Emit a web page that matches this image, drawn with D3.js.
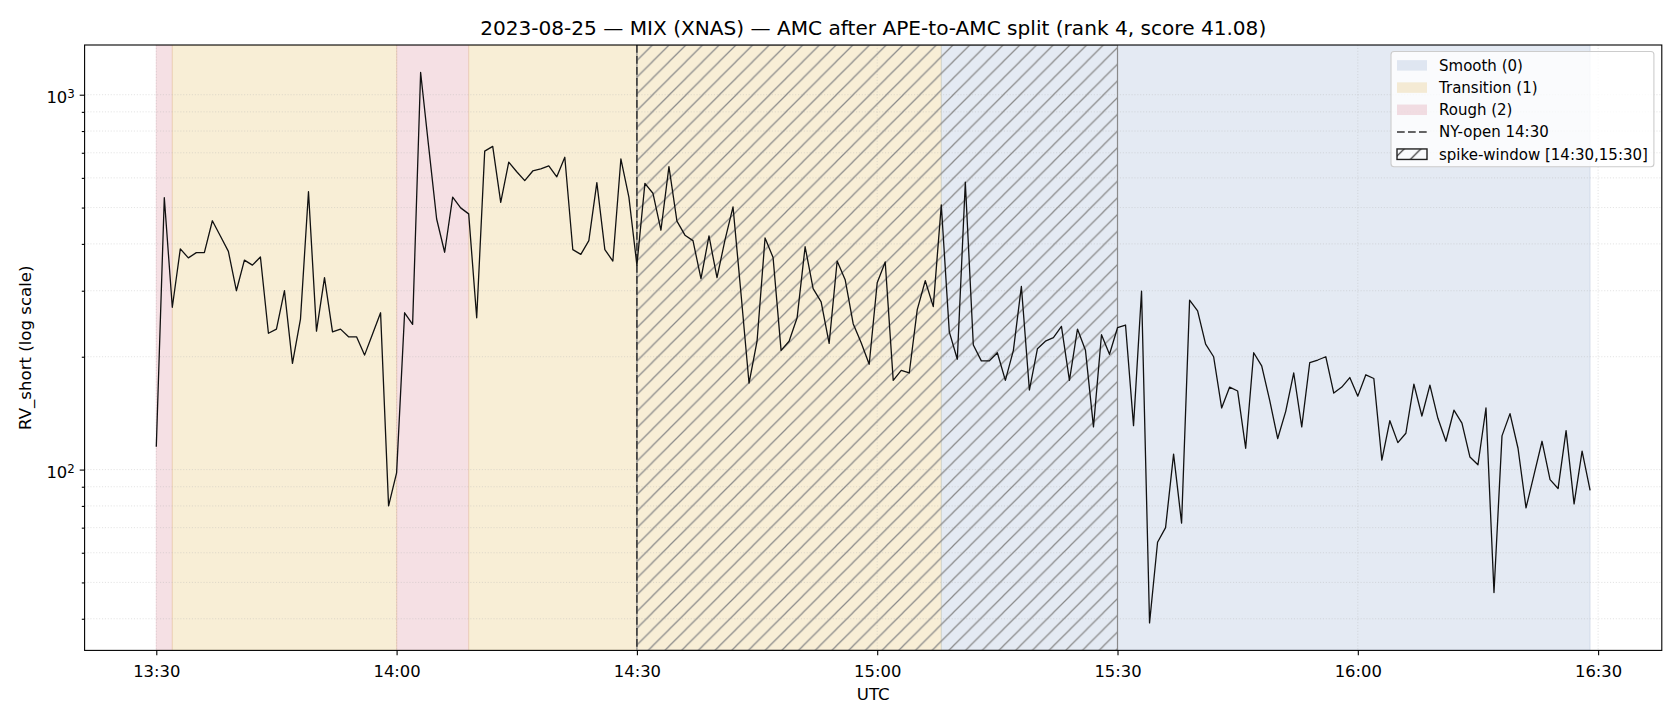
<!DOCTYPE html>
<html>
<head>
<meta charset="utf-8">
<script src="https://cdn.jsdelivr.net/npm/d3@7"></script>
<style>
body { margin:0; background:#fff; }
svg { font-family: "DejaVu Sans", sans-serif; }
</style>
</head>
<body>
<svg id="drawing_region"></svg>
<script>
// ---- data ----
const tradeDate = "2023-08-25";
const startTime = "13:30";   // one value per minute from here
const rvShort = [
    115, 531, 271, 388, 367, 379, 379, 461, 420, 382,
    300, 362, 351, 369, 231, 237, 300, 192, 252, 551,
    234, 325, 233, 237, 226, 226, 202, 230, 262, 80,
    98, 262, 244, 1146, 728, 466, 380, 533, 499, 481,
    254, 707, 728, 516, 661, 623, 590, 626, 634, 646,
    604, 681, 386, 375, 408, 583, 386, 360, 674, 533,
    351, 580, 546, 435, 643, 460, 422, 408, 323, 420,
    325, 410, 502, 294, 170, 220, 415, 368, 208, 220,
    254, 393, 304, 280, 217, 360, 321, 245, 218, 191,
    315, 358, 173, 184, 181, 267, 319, 272, 508, 233,
    197, 584, 215, 195, 195, 205, 173, 208, 308, 163,
    210, 220, 225, 241, 173, 237, 208, 130, 229, 203,
    239, 243, 131, 299, 39, 64, 70, 110, 72, 283,
    265, 216, 200, 146, 166, 162, 114, 205, 189, 153,
    121, 143, 181, 130, 193, 196, 200, 160, 166, 176,
    157, 179, 175, 106, 135, 118, 125, 169, 139, 168,
    137, 119, 144, 133, 108, 103, 146, 47, 123, 141,
    114, 79, 97, 119, 94, 89, 127, 81, 112, 88
];

const regimeStart = ["13:30", "13:32", "14:00", "14:09", "15:08"];
const regimeEnd   = ["13:32", "14:00", "14:09", "15:08", "16:29"];
const regimeCode  = [2, 1, 2, 1, 0];
const regimeNames  = ["Smooth (0)", "Transition (1)", "Rough (2)"];
const regimeColors = ["#4c72b0", "#ddaa33", "#cc6677"];

const nyOpen = "14:30";
const spikeWindow = ["14:30", "15:30"];
const xTickLabels = ["13:30", "14:00", "14:30", "15:00", "15:30", "16:00", "16:30"];
const yMajorTicks = [100, 1000];

const titleText = "2023-08-25 \u2014 MIX (XNAS) \u2014 AMC after APE-to-AMC split (rank 4, score 41.08)";

// ---- drawing ----
const W = 1680, H = 720;
const margin = {top:45, right:18.2, bottom:69.6, left:84.6};
const iw = W - margin.left - margin.right;
const ih = H - margin.top - margin.bottom;
const fsTick = 16.4, fsLabel = 16.6, fsTitle = 20.1, fsLegend = 15;
const dash = '7.7,3.3';

const parseT = d3.utcParse("%Y-%m-%d %H:%M");
const T = s => parseT(`${tradeDate} ${s}`);

const t0 = T(startTime);
const series = rvShort.map((v, i) => ({t: d3.utcMinute.offset(t0, i), v: v}));

const svg = d3.select('#drawing_region')
    .attr('width', W)
    .attr('height', H);

const chart = svg.append('g')
    .attr('transform', `translate(${margin.left}, ${margin.top})`);

// matplotlib-like 5% margins (log space for y)
const tMin = series[0].t, tMax = series[series.length-1].t;
const tPad = (tMax - tMin) * 0.05;
const xscale = d3.scaleUtc()
    .domain([new Date(+tMin - tPad), new Date(+tMax + tPad)])
    .range([0, iw]);

const lmin = Math.log10(d3.min(rvShort)), lmax = Math.log10(d3.max(rvShort));
const lpad = (lmax - lmin) * 0.05;
const yscale = d3.scaleLog()
    .domain([Math.pow(10, lmin - lpad), Math.pow(10, lmax + lpad)])
    .range([ih, 0]);

const defs = svg.append('defs');
defs.append('clipPath').attr('id', 'clip')
    .append('rect').attr('width', iw).attr('height', ih);

function addHatch(id, s, color, sw) {
    const p = defs.append('pattern')
        .attr('id', id)
        .attr('patternUnits', 'userSpaceOnUse')
        .attr('width', s).attr('height', s);
    p.append('path')
        .attr('d', `M0,${s} L${s},0 M${-s/2},${s/2} L${s/2},${-s/2} M${s/2},${s*1.5} L${s*1.5},${s/2}`)
        .attr('stroke', color)
        .attr('stroke-width', sw);
}
addHatch('hatch', 16.7, '#8a8a8a', 1.25);
addHatch('hatchLegend', 16.7, '#222', 1.2);

const plot = chart.append('g').attr('clip-path', 'url(#clip)');

// regime bands
plot.selectAll('rect.band')
    .data(regimeStart.map((s, i) => ({s: T(s), e: T(regimeEnd[i]), c: regimeCode[i]})))
    .enter()
    .append('rect')
    .attr('class', 'band')
    .attr('x', d => xscale(d.s))
    .attr('width', d => xscale(d.e) - xscale(d.s))
    .attr('y', 0)
    .attr('height', ih)
    .attr('fill', d => regimeColors[d.c])
    .attr('fill-opacity', d => d.c === 0 ? 0.15 : 0.2)
    .attr('stroke', d => regimeColors[d.c])
    .attr('stroke-opacity', 0.12)
    .attr('stroke-width', 1.2);

// grid
const yMinor = [];
[10, 100, 1000].forEach(dec => {
    for (let m = 1; m < 10; m++) {
        const v = dec * m;
        const [a, b] = yscale.domain();
        if (v >= a && v <= b && !yMajorTicks.includes(v)) yMinor.push(v);
    }
});
const xTicks = xTickLabels.map(T);

plot.selectAll('line.hgrid')
    .data(yMajorTicks.concat(yMinor))
    .enter()
    .append('line')
    .attr('x1', 0).attr('x2', iw)
    .attr('y1', d => yscale(d)).attr('y2', d => yscale(d))
    .attr('stroke', '#b0b0b0')
    .attr('stroke-opacity', 0.45)
    .attr('stroke-width', 0.8)
    .attr('stroke-dasharray', '1.1,1.8');

plot.selectAll('line.vgrid')
    .data(xTicks)
    .enter()
    .append('line')
    .attr('y1', 0).attr('y2', ih)
    .attr('x1', d => xscale(d)).attr('x2', d => xscale(d))
    .attr('stroke', '#b0b0b0')
    .attr('stroke-opacity', 0.45)
    .attr('stroke-width', 0.8)
    .attr('stroke-dasharray', '1.1,1.8');

// spike window
const sw0 = xscale(T(spikeWindow[0])), sw1 = xscale(T(spikeWindow[1]));
plot.append('rect')
    .attr('x', sw0).attr('y', 0)
    .attr('width', sw1 - sw0).attr('height', ih)
    .attr('fill', 'url(#hatch)')
    .attr('stroke', '#8a8a8a')
    .attr('stroke-width', 1.2);

// NY open line
plot.append('line')
    .attr('x1', xscale(T(nyOpen))).attr('x2', xscale(T(nyOpen)))
    .attr('y1', 0).attr('y2', ih)
    .attr('stroke', '#333')
    .attr('stroke-width', 1.5)
    .attr('stroke-dasharray', dash);

// series
plot.append('path')
    .datum(series)
    .attr('fill', 'none')
    .attr('stroke', '#111')
    .attr('stroke-width', 1.3)
    .attr('stroke-linejoin', 'round')
    .attr('d', d3.line().x(d => xscale(d.t)).y(d => yscale(d.v)));

// axes
const xaxis = d3.axisBottom(xscale)
    .tickValues(xTicks)
    .tickFormat(d3.utcFormat("%H:%M"))
    .tickSize(4.9)
    .tickPadding(4.9);
const xaxis_group = chart.append('g')
    .attr('transform', `translate(0, ${ih})`)
    .call(xaxis);

const yaxis = d3.axisLeft(yscale)
    .tickValues(yMajorTicks)
    .tickFormat('')
    .tickSize(4.9)
    .tickPadding(4.9);
const yaxis_group = chart.append('g').call(yaxis);
yaxis_group.selectAll('.tick text')
    .each(function(d) {
        const t = d3.select(this);
        t.text('10');
        t.append('tspan')
            .attr('dy', '-0.42em')
            .attr('font-size', '0.72em')
            .text(Math.round(Math.log10(d)));
    });

const yminor_group = chart.append('g')
    .call(d3.axisLeft(yscale).tickValues(yMinor).tickFormat('').tickSize(2.8));

[xaxis_group, yaxis_group, yminor_group].forEach(g => {
    g.select('.domain').remove();
    g.selectAll('.tick line').attr('stroke', '#000').attr('stroke-width', 1.1);
    g.selectAll('.tick text')
        .attr('font-family', '"DejaVu Sans", sans-serif')
        .attr('font-size', fsTick)
        .attr('fill', '#000');
});
xaxis_group.selectAll('.tick text').attr('y', 26.3).attr('dy', 0);
yaxis_group.selectAll('.tick text').attr('dy', '0.46em');

// frame
chart.append('rect')
    .attr('width', iw).attr('height', ih)
    .attr('fill', 'none')
    .attr('stroke', '#000')
    .attr('stroke-width', 1.1);

// labels
svg.append('text')
    .attr('x', margin.left + iw/2)
    .attr('y', 35)
    .attr('text-anchor', 'middle')
    .attr('font-size', fsTitle)
    .text(titleText);

svg.append('text')
    .attr('x', margin.left + iw/2)
    .attr('y', 700)
    .attr('text-anchor', 'middle')
    .attr('font-size', fsLabel)
    .text('UTC');

svg.append('text')
    .attr('transform', `translate(31, ${margin.top + ih/2}) rotate(-90)`)
    .attr('text-anchor', 'middle')
    .attr('font-size', fsLabel)
    .text('RV_short (log scale)');

// legend
const legendItems = [
    {label: regimeNames[0], kind: 'patch', color: regimeColors[0], op: 0.15},
    {label: regimeNames[1], kind: 'patch', color: regimeColors[1], op: 0.2},
    {label: regimeNames[2], kind: 'patch', color: regimeColors[2], op: 0.2},
    {label: `NY-open ${nyOpen}`, kind: 'dash'},
    {label: `spike-window [${spikeWindow[0]},${spikeWindow[1]}]`, kind: 'hatch'}
];
const legend = svg.append('g');
const lgBox = legend.append('rect')
    .attr('rx', 3).attr('ry', 3)
    .attr('fill', '#fff')
    .attr('fill-opacity', 0.8)
    .attr('stroke', '#cccccc')
    .attr('stroke-width', 1.1);

const lgLeft = 1391, lgTop = 51.5, rowH = 22.2, firstRow = 65.4;
const hx = lgLeft + 6, hw = 30, hh = 10.5, tx = hx + hw + 12;
let maxTextW = 0;
legendItems.forEach((it, i) => {
    const cy = firstRow + i * rowH;
    if (it.kind === 'patch') {
        legend.append('rect')
            .attr('x', hx).attr('y', cy - hh/2)
            .attr('width', hw).attr('height', hh)
            .attr('fill', it.color).attr('fill-opacity', it.op);
    } else if (it.kind === 'dash') {
        legend.append('line')
            .attr('x1', hx).attr('x2', hx + hw)
            .attr('y1', cy).attr('y2', cy)
            .attr('stroke', '#333')
            .attr('stroke-width', 1.5)
            .attr('stroke-dasharray', dash);
    } else {
        legend.append('rect')
            .attr('x', hx).attr('y', cy - hh/2)
            .attr('width', hw).attr('height', hh)
            .attr('fill', 'url(#hatchLegend)')
            .attr('stroke', '#222')
            .attr('stroke-width', 1.4);
    }
    const t = legend.append('text')
        .attr('x', tx).attr('y', cy)
        .attr('dy', '0.36em')
        .attr('font-size', fsLegend)
        .text(it.label);
    maxTextW = Math.max(maxTextW, t.node().getComputedTextLength());
});
lgBox.attr('x', lgLeft).attr('y', lgTop)
    .attr('width', tx + maxTextW + 6 - lgLeft)
    .attr('height', firstRow + 4 * rowH + 12.5 - lgTop);
</script>
</body>
</html>
